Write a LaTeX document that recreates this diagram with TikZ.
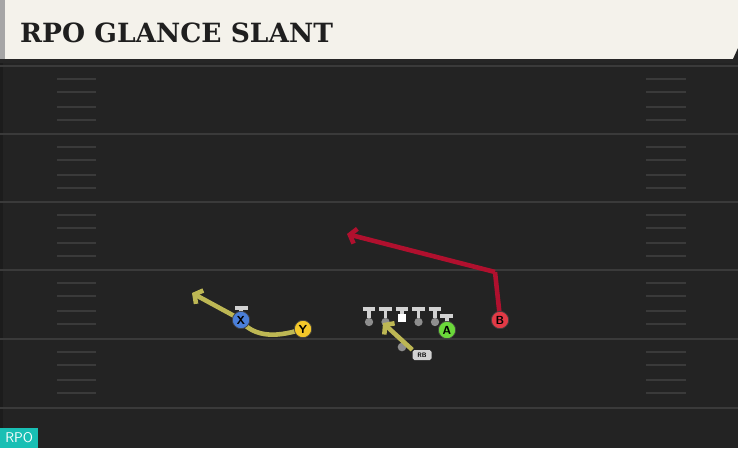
\documentclass[tikz,border=0pt]{standalone}
\usepackage{fontspec}
\usetikzlibrary{positioning,arrows.meta}
\newfontfamily\titlefont{DejaVu Serif}
\definecolor{field}{HTML}{232323}
\definecolor{yardline}{HTML}{3A3A3A}
\definecolor{cream}{HTML}{F4F2EB}
\definecolor{teegray}{HTML}{D2D2D2}
\definecolor{dotgray}{HTML}{8E8E8E}
\definecolor{routeyel}{HTML}{BDB754}
\definecolor{routered}{HTML}{B0102E}
\definecolor{bred}{HTML}{E23A46}
\definecolor{agreen}{HTML}{6BD83A}
\definecolor{xblue}{HTML}{4A7FD9}
\definecolor{yyellow}{HTML}{F4C82A}
\definecolor{rpoteal}{HTML}{19BFB4}

\begin{document}
\begin{tikzpicture}[x=0.03cm,y=-0.03cm,node distance=0.495cm,on grid,
    player/.style={circle,draw=black!75,line width=0.6pt,minimum size=0.52cm,inner sep=0pt,font=\sffamily\bfseries},
    lman/.style={circle,fill=dotgray,minimum size=0.25cm,inner sep=0pt},
    cbox/.style={rectangle,fill=white,minimum size=0.25cm,inner sep=0pt},
    tee/.style={teegray,line width=3.3pt},
    route/.style={line width=3.9pt,-{Straight Barb[length=5pt,width=13pt]}}]
    \useasboundingbox (0,0) rectangle (738,448);
    \fill[field] (0,0) rectangle (738,448);
    \fill[black!20!field] (0,60) rectangle (3,448);
    % yard lines and hash marks
    \foreach \y in {66,134,202,270,339} {
        \foreach \h in {13,26,41,54} {
            \draw[yardline,line width=1.1pt] (57,\y+\h) -- (96,\y+\h);
            \draw[yardline,line width=1.1pt] (646,\y+\h) -- (686,\y+\h);
        }
    }
    \foreach \y in {66,134,202,270,339,408}
        \draw[yardline,line width=1.6pt] (0,\y) -- (738,\y);
    % header
    \fill[black!85] (0,59) rectangle (738,63);
    \fill[cream] (0,0) rectangle (738,59);
    \fill[black!35] (0,0) rectangle (5,59);
    \fill[field] (733,59) -- (738,59) -- (738,48) -- cycle;
    \node[anchor=base west,inner sep=0pt,font=\titlefont\bfseries\fontsize{22.6}{23}\selectfont,text=black!88] (title) at (20,42) {RPO GLANCE SLANT};
    % offensive line
    \coordinate (bar) at (0,309);
    \node[lman] (lt) at (369,322) {};
    \node[lman] (lg) [right=of lt] {};
    \node[cbox] (c) [right=of lg,yshift=0.12cm] {};
    \node[lman] (rg) [right=of lg,xshift=0.495cm] {};
    \node[lman] (rt) [right=of rg] {};
    \foreach \n in {lt,lg,c,rg,rt} {
        \draw[tee] ([xshift=-0.19cm]\n |- bar) -- ([xshift=0.19cm]\n |- bar);
        \draw[tee] (\n |- bar) -- (\n.north);
    }
    % backs and receivers
    \node[lman,minimum size=0.26cm] (rb) at (402,347) {};
    \node[rectangle,rounded corners=1.5pt,fill=teegray,minimum width=0.57cm,minimum height=0.3cm,inner sep=0pt,font=\sffamily\bfseries\fontsize{5.5}{5.5}\selectfont] (rbtag) at (422,355) {RB};
    \coordinate (xtip) at (192,293);
    \coordinate (bbreak) at (495,272);
    \coordinate (btip) at (347,234);
    \coordinate (rbtip) at (383,323);
    \draw[route,routeyel] (rbtag.north west) -- (rbtip);
    \draw[route,routeyel] (303,329) .. controls (272,339) and (252,336) .. (238,318) -- (xtip);
    \draw[route,routered,-] (500,318) -- (bbreak);
    \draw[route,routered] (bbreak) -- (btip);
    \draw[tee] (235,308) -- (248,308);
    \draw[tee] (241,308) -- (241,313);
    \draw[tee] (440,316) -- (453,316);
    \draw[tee] (447,316) -- (447,322);
    \node[player,fill=xblue] (x) at (241,320) {X};
    \node[player,fill=yyellow] (y) at (303,329) {Y};
    \node[player,fill=agreen] (a) at (447,330) {A};
    \node[player,fill=bred] (b) at (500,320) {B};
    % play tag
    \node[anchor=south west,fill=rpoteal,text=white,inner sep=1.5pt,minimum height=0.6cm,minimum width=1.14cm,font=\sffamily\fontsize{12}{12}\selectfont] (tag) at (0,448) {RPO};
\end{tikzpicture}
\end{document}
